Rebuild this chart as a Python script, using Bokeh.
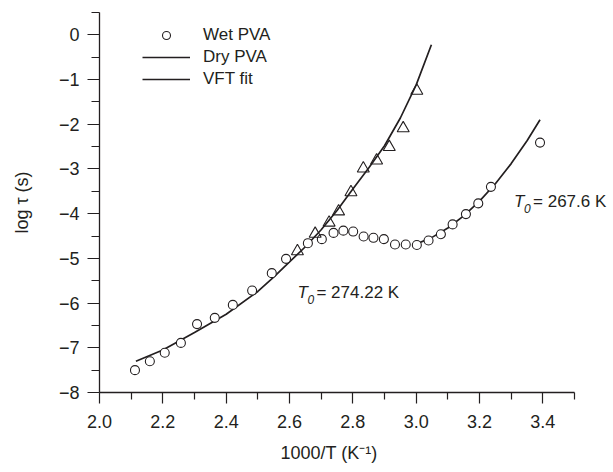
from bokeh.plotting import figure
from bokeh.models import FixedTicker, Legend, LegendItem, Label, Range1d, Title
from bokeh.embed import file_html
from bokeh.resources import INLINE

# ---- data ----
wet_x = [2.112, 2.159, 2.206, 2.257, 2.308, 2.364, 2.421, 2.482, 2.544, 2.589,
         2.658, 2.702, 2.739, 2.770, 2.801, 2.834, 2.865, 2.898, 2.933, 2.967,
         3.002, 3.039, 3.078, 3.115, 3.157, 3.196, 3.236, 3.391]
wet_y = [-7.50, -7.30, -7.11, -6.89, -6.47, -6.33, -6.04, -5.72, -5.33, -5.01,
         -4.66, -4.57, -4.43, -4.38, -4.40, -4.51, -4.54, -4.57, -4.69, -4.69,
         -4.70, -4.60, -4.46, -4.24, -4.01, -3.77, -3.40, -2.41]

dry_x = [2.625, 2.681, 2.725, 2.755, 2.794, 2.833, 2.875, 2.915, 2.959, 3.002]
dry_y = [-4.84, -4.45, -4.20, -3.95, -3.52, -2.99, -2.81, -2.51, -2.09, -1.25]

fit_dry_x = [2.115, 2.2, 2.3, 2.4, 2.5, 2.55, 2.6, 2.65, 2.7, 2.75, 2.8, 2.85,
             2.9, 2.95, 3.0, 3.048]
fit_dry_y = [-7.30, -7.05, -6.66, -6.25, -5.74, -5.42, -5.08, -4.74, -4.36, -3.93,
             -3.45, -2.98, -2.48, -1.86, -1.12, -0.22]

fit_wet_x = [2.993, 3.05, 3.1, 3.15, 3.2, 3.25, 3.3, 3.35, 3.391]
fit_wet_y = [-4.70, -4.53, -4.32, -4.05, -3.72, -3.33, -2.88, -2.37, -1.90]

x_major = [2.0, 2.2, 2.4, 2.6, 2.8, 3.0, 3.2, 3.4]
x_minor = [2.1, 2.3, 2.5, 2.7, 2.9, 3.1, 3.3, 3.5]
x_labels = ["2.0", "2.2", "2.4", "2.6", "2.8", "3.0", "3.2", "3.4"]
y_major = [-8, -7, -6, -5, -4, -3, -2, -1, 0]
y_minor = [-7.5, -6.5, -5.5, -4.5, -3.5, -2.5, -1.5, -0.5, 0.5]
y_labels = ["\u22128", "\u22127", "\u22126", "\u22125", "\u22124", "\u22123",
            "\u22122", "\u22121", "0"]

t0_labels = ["= 274.22 K", "= 267.6 K"]
t0_x = [2.625, 3.309]
t0_y = [-5.76, -3.73]

INK = "#231f20"
FONT = "Liberation Sans"

p = figure(width=613, height=472, output_backend="svg", toolbar_location=None,
           x_range=Range1d(2.0, 3.623), y_range=Range1d(-8, 0.5),
           min_border_left=99, min_border_right=0, min_border_top=12,
           min_border_bottom=78)
p.xgrid.visible = False
p.ygrid.visible = False
p.outline_line_color = None
p.background_fill_color = "white"

xa = p.xaxis[0]
ya = p.yaxis[0]
xa.bounds = (2.0, 3.5)
xa.ticker = FixedTicker(ticks=x_major, minor_ticks=x_minor)
ya.ticker = FixedTicker(ticks=y_major, minor_ticks=y_minor)
xa.major_label_overrides = {v: s for v, s in zip(x_major, x_labels)}
ya.major_label_overrides = {v: s for v, s in zip(y_major, y_labels)}
ya.axis_label = "log \u03c4 (s)"
for ax, mj, mn in ((xa, 11, 7), (ya, 12, 8)):
    ax.axis_line_color = INK
    ax.axis_line_width = 1.3
    ax.major_tick_line_color = INK
    ax.minor_tick_line_color = INK
    ax.major_tick_line_width = 1.2
    ax.minor_tick_line_width = 1.2
    ax.major_tick_in = 0
    ax.major_tick_out = mj
    ax.minor_tick_in = 0
    ax.minor_tick_out = mn
    ax.major_label_text_font = FONT
    ax.major_label_text_font_size = "18px"
    ax.major_label_text_color = INK
    ax.axis_label_text_font = FONT
    ax.axis_label_text_font_size = "18px"
    ax.axis_label_text_font_style = "normal"
    ax.axis_label_text_color = INK
xa.major_label_standoff = 11
ya.major_label_standoff = 8
ya.axis_label_standoff = 24

# x-axis title, centred on the bounded axis (2.0 - 3.5)
p.add_layout(Title(text="1000/T (K\u207b\u00b9)", align="left", offset=181,
                   standoff=20, text_font=FONT, text_font_size="18px",
                   text_font_style="normal", text_color=INK), "below")

fit1 = p.line(fit_dry_x, fit_dry_y, line_color=INK, line_width=1.7)
fit2 = p.line(fit_wet_x, fit_wet_y, line_color=INK, line_width=1.7)
wet_r = p.scatter(wet_x, wet_y, marker="circle", size=9, fill_color="white",
                  line_color=INK, line_width=1.1)
p.scatter(dry_x, dry_y, marker="triangle", size=12, fill_alpha=0,
          line_color=INK, line_width=1.1)

legend = Legend(items=[LegendItem(label="Wet PVA", renderers=[wet_r]),
                       LegendItem(label="Dry PVA", renderers=[fit2]),
                       LegendItem(label="VFT fit", renderers=[fit1])],
                location=(43, 303), glyph_width=48, glyph_height=20,
                label_height=20, spacing=2, padding=0, margin=0,
                label_standoff=13, border_line_color=None,
                background_fill_alpha=0, label_text_font=FONT,
                label_text_font_size="17px", label_text_color=INK)
p.add_layout(legend)

for s, x, y in zip(t0_labels, t0_x, t0_y):
    p.add_layout(Label(x=x, y=y, text="T", text_font=FONT, text_font_size="17px",
                       text_font_style="italic", text_baseline="middle",
                       text_color=INK))
    p.add_layout(Label(x=x, y=y, x_offset=10, y_offset=-7, text="0", text_font=FONT,
                       text_font_size="12px", text_font_style="italic",
                       text_baseline="middle", text_color=INK))
    p.add_layout(Label(x=x, y=y, x_offset=19, text=s, text_font=FONT,
                       text_font_size="17px", text_baseline="middle",
                       text_color=INK))

open("out.html", "w").write(file_html(p, INLINE))
